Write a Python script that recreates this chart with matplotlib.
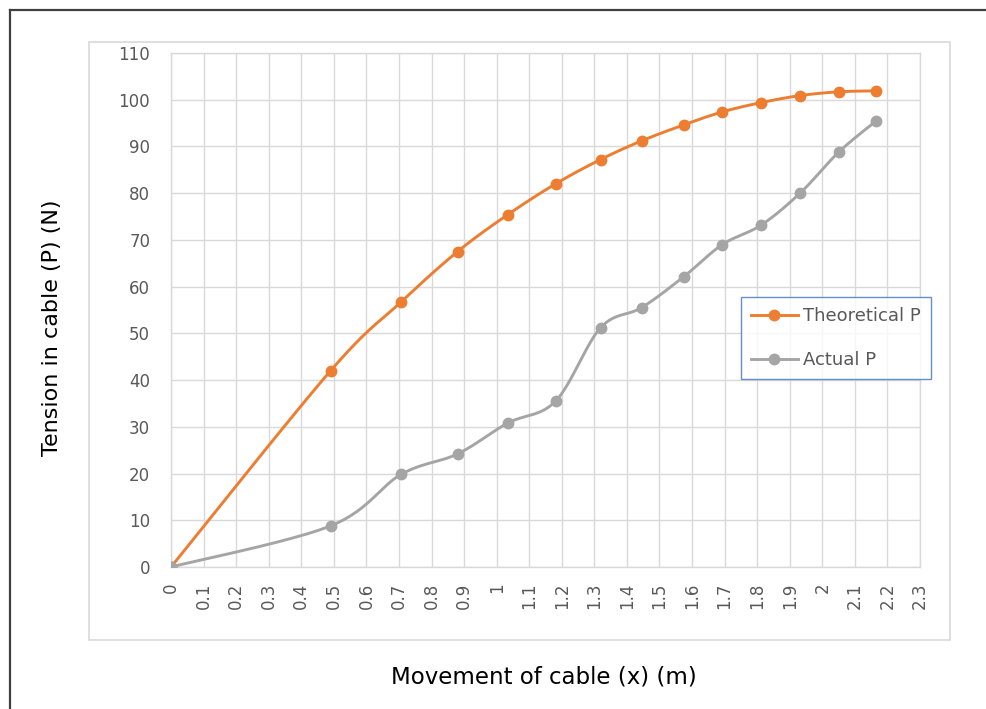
import numpy as np
import matplotlib
matplotlib.use("Agg")
import matplotlib.pyplot as plt
from matplotlib.patches import Rectangle
from matplotlib.lines import Line2D

# ---- data ----
x_move = [0, 0.49, 0.706, 0.88, 1.034, 1.181, 1.319, 1.445, 1.574, 1.693, 1.813, 1.933, 2.052, 2.166]
p_theoretical = [0, 42.0, 56.7, 67.5, 75.4, 82.0, 87.2, 91.2, 94.6, 97.4, 99.4, 100.9, 101.7, 101.9]
p_actual = [0, 8.8, 19.8, 24.2, 30.8, 35.5, 51.2, 55.5, 62.1, 69.0, 73.2, 80.1, 88.9, 95.5]
x_ticks = [round(0.1 * i, 1) for i in range(24)]
x_tick_labels = ["0", "0.1", "0.2", "0.3", "0.4", "0.5", "0.6", "0.7", "0.8", "0.9", "1",
                 "1.1", "1.2", "1.3", "1.4", "1.5", "1.6", "1.7", "1.8", "1.9", "2", "2.1", "2.2", "2.3"]
y_ticks = [0, 10, 20, 30, 40, 50, 60, 70, 80, 90, 100, 110]
series_names = ["Theoretical P", "Actual P"]


def smooth(xs, ys, n=24):
    """Excel-like smoothed line (uniform Catmull-Rom as cubic Bezier)."""
    pts = np.column_stack([xs, ys]).astype(float)
    out = [pts[0]]
    for i in range(len(pts) - 1):
        p0 = pts[i - 1] if i > 0 else pts[i]
        p1 = pts[i]
        p2 = pts[i + 1]
        p3 = pts[i + 2] if i + 2 < len(pts) else pts[i + 1]
        c1 = p1 + (p2 - p0) / 6.0
        c2 = p2 - (p3 - p1) / 6.0
        t = np.linspace(0, 1, n)[1:, None]
        seg = ((1 - t) ** 3) * p1 + 3 * ((1 - t) ** 2) * t * c1 + 3 * (1 - t) * t ** 2 * c2 + t ** 3 * p2
        out.extend(seg)
    out = np.array(out)
    return out[:, 0], out[:, 1]


plt.rcParams['font.family'] = ['DejaVu Sans']

W, H = 986, 709
fig = plt.figure(figsize=(W / 100, H / 100), dpi=100)
fig.patch.set_facecolor("white")

# outer border (left and top)
fig.add_artist(Line2D([10 / W, 10 / W], [0, 1 - 10 / H], transform=fig.transFigure,
                      color="#404040", lw=1.6))
fig.add_artist(Line2D([10 / W, 1], [1 - 10 / H, 1 - 10 / H], transform=fig.transFigure,
                      color="#404040", lw=1.6))
# inner chart box
fig.add_artist(Rectangle((89 / W, 1 - 640 / H), (950 - 89) / W, (640 - 42) / H,
                         transform=fig.transFigure, fill=False, edgecolor="#d9d9d9", lw=1.2))

left, right, top, bottom = 171, 920, 53, 567
ax = fig.add_axes([left / W, 1 - bottom / H, (right - left) / W, (bottom - top) / H])
ax.set_xlim(0, 2.3)
ax.set_ylim(0, 110)
ax.set_xticks(x_ticks)
ax.set_xticklabels(x_tick_labels, rotation=90)
ax.set_yticks(y_ticks)
ax.grid(True, color="#d9d9d9", lw=1.0)
ax.set_axisbelow(True)
for s in ax.spines.values():
    s.set_color("#d9d9d9")
    s.set_linewidth(1.0)
ax.tick_params(length=0, colors="#595959", labelsize=12)
ax.tick_params(axis="x", pad=11)
ax.tick_params(axis="y", pad=15)

colors = ["#ED7D31", "#A5A5A5"]
for ys, c, name in zip([p_theoretical, p_actual], colors, series_names):
    sx, sy = smooth(x_move, ys)
    ax.plot(sx, sy, color=c, lw=2.1, solid_capstyle="round", zorder=3)
    ax.plot(x_move, ys, 'o', color=c, ms=7.5, zorder=4)

handles = [Line2D([0], [0], color=c, lw=2.1, marker='o', ms=7.5) for c in colors]
leg = ax.legend(handles, series_names, loc="upper left",
                bbox_to_anchor=((741 - left) / (right - left), (bottom - 297) / (bottom - top)),
                frameon=True, fancybox=False, fontsize=13, handlelength=2.6,
                labelspacing=1.45, borderpad=0.55, handletextpad=0.3, borderaxespad=0)
leg.get_frame().set_edgecolor("#4472C4")
leg.get_frame().set_linewidth(1.0)
for t in leg.get_texts():
    t.set_color("#595959")

fig.text(52 / W, 1 - 328 / H, "Tension in cable (P) (N)", rotation=90, ha="center", va="center",
         fontsize=16, color="#000000")
fig.text(544 / W, 1 - 677 / H, "Movement of cable (x) (m)", ha="center", va="center",
         fontsize=16.5, color="#000000")

fig.savefig("out.png", dpi=100, facecolor="white")
